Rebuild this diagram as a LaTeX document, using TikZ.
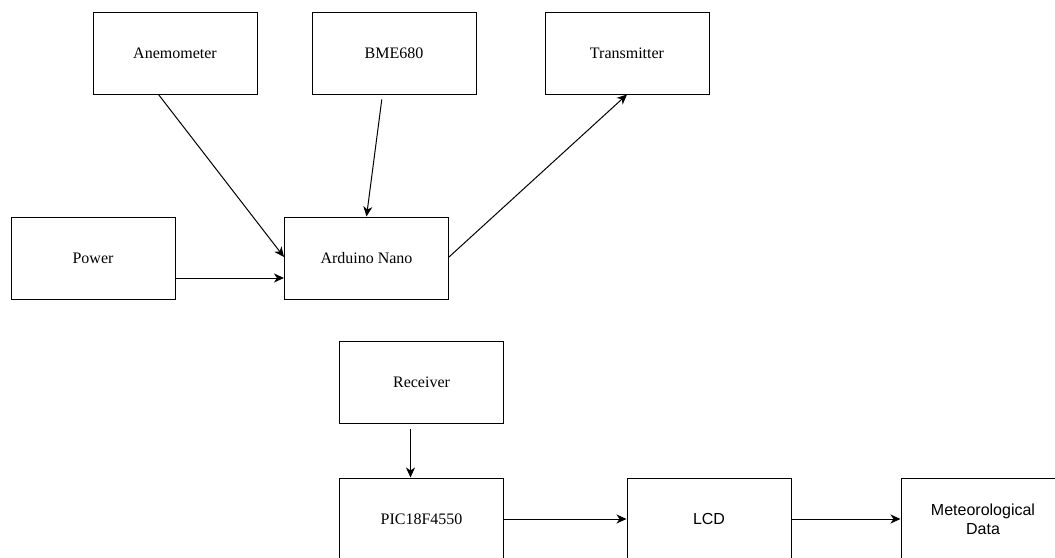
\documentclass[tikz,border=0pt]{standalone}
\usepackage{fontspec}
\setmainfont{Liberation Serif}
\setsansfont{Liberation Sans}
\usepackage{tikz}
\usetikzlibrary{calc,arrows.meta,positioning}
\tikzset{
  block/.style={draw,line width=1pt,minimum width=164pt,minimum height=82pt,
    inner sep=0pt,font=\fontsize{16}{19}\selectfont},
  sblock/.style={block,align=center,font=\sffamily\fontsize{16}{19}\selectfont}
}
\tikzstyle{arrow} = [line width=1pt,-{Stealth[length=10pt,width=9pt,inset=3pt]}]

\begin{document}
\begin{tikzpicture}[x=1pt,y=-1pt]
  % frame
  \path[use as bounding box] (0,0) rectangle (1055,557);
  \clip (0,0) rectangle (1055,557);
  % sensor side
  \node[block] (anem)  at (175,53)    {Anemometer};
  \node[block] (bme)   at (394,53)    {BME680};
  \node[block] (tx)    at (627,53)    {Transmitter};
  \node[block] (power) at (93,258)    {Power};
  \node[block] (nano)  at (366.5,258) {Arduino Nano};
  % display side
  \node[block]  (rx)  at (421.5,382) {Receiver};
  \node[block]  (pic) at (421.5,519) {PIC18F4550};
  \node[sblock] (lcd) at (709,519)   {LCD};
  \node[sblock] (met) at (983,519)   {Meteorological\\Data};
  % links
  \draw[arrow] ($(anem.south west)!0.4!(anem.south east)$) -- ([yshift=1pt]nano.west);
  \draw[arrow,shorten <=5pt] ($(bme.south west)!0.43!(bme.south east)$) -- (nano.north);
  \draw[arrow] ([yshift=-20pt]power.east) -- ([yshift=-20pt]nano.west);
  \draw[arrow] ([yshift=1pt]nano.east) -- (tx.south);
  \draw[arrow,shorten <=5pt] ([xshift=-11pt]rx.south) -- ([xshift=-11pt]pic.north);
  \draw[arrow] (pic) -- (lcd);
  \draw[arrow] (lcd) -- (met);
\end{tikzpicture}
\end{document}
